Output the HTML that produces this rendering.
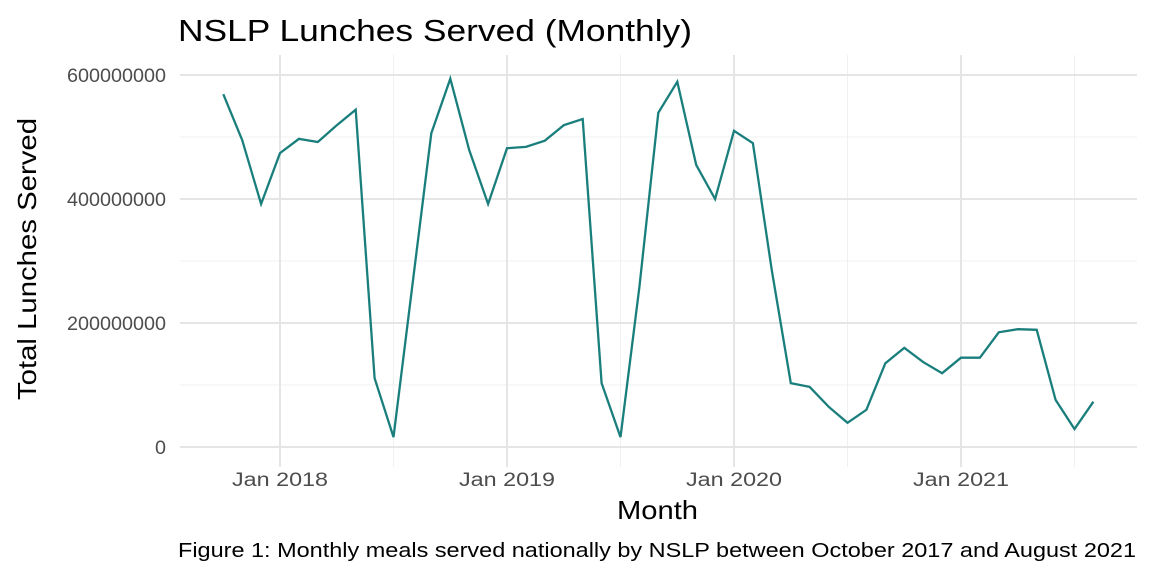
<!DOCTYPE html>
<html><head><meta charset="utf-8"><style>
body{margin:0;background:#fff;font-family:"Liberation Sans",Arial,sans-serif}
svg text{font-family:"Liberation Sans",Arial,sans-serif}
</style></head><body>
<svg id="chart" width="1152" height="576" viewBox="0 0 1152 576">
<rect width="1152" height="576" fill="#fff"/>
<text x="178" y="41" font-size="31" textLength="514" lengthAdjust="spacingAndGlyphs" fill="#000">NSLP Lunches Served (Monthly)</text>
<g id="grid"></g>
<g id="axes"></g>
<path id="line" fill="none" stroke="#1a7f7c" stroke-width="2.3"/>
<text x="617" y="519" font-size="26" textLength="81" lengthAdjust="spacingAndGlyphs" fill="#000">Month</text>
<text transform="translate(36,400) rotate(-90)" font-size="26" textLength="282" lengthAdjust="spacingAndGlyphs" fill="#000">Total Lunches Served</text>
<text x="178" y="557" font-size="20" textLength="958" lengthAdjust="spacingAndGlyphs" fill="#000">Figure 1: Monthly meals served nationally by NSLP between October 2017 and August 2021</text>
</svg>
<script>
// Monthly values in millions, Oct 2017 .. Aug 2021
const startYear = 2017, startMonth = 9; // Oct (0-based)
const lunchesMillions = [569,495,392,474,497,492,519,544,111,16,261,506,594,479,392,482,484,494,519,529,103,16,258,539,589,455,400,510,490,285,103,97,65,39,60,135,160,137,119,144,144,185,190,189,76,29,73];
const yTicks = [0,200000000,400000000,600000000];
const yMinor = [100000000,300000000,500000000];
const xTickYears = [2018,2019,2020,2021];
const xMinorYears = [2018,2019,2020,2021];

const L=180,R=1137,T=55,B=467;
const x0=280, pxYear=227;
function xs(yearFrac){return x0+(yearFrac-2018)*pxYear;}
function ys(v){return 447-v/600000000*372;}
const NS="http://www.w3.org/2000/svg";
const grid=document.getElementById('grid'), axes=document.getElementById('axes');
function line(x1,y1,x2,y2,c,w,parent,name){const l=document.createElementNS(NS,'line');
l.setAttribute('x1',x1);l.setAttribute('y1',y1);l.setAttribute('x2',x2);l.setAttribute('y2',y2);
l.setAttribute('stroke',c);l.setAttribute('stroke-width',w);


parent.appendChild(l);}
function text(x,y,s,anchor,parent,name,len){const t=document.createElementNS(NS,'text');
t.setAttribute('x',x);t.setAttribute('y',y);t.setAttribute('font-size','19');t.setAttribute('fill','#4d4d4d');t.setAttribute('text-anchor',anchor);
t.setAttribute('textLength',len);t.setAttribute('lengthAdjust','spacingAndGlyphs');t.textContent=s;


parent.appendChild(t);}
yMinor.forEach(v=>line(L,ys(v),R,ys(v),'#f0f0f0',1,grid,'y-minor-gridline'));
xMinorYears.forEach(y=>line(xs(y+0.5),T,xs(y+0.5),B,'#f0f0f0',1,grid,'x-minor-gridline'));
yTicks.forEach(v=>{line(L,ys(v),R,ys(v),'#e5e5e5',2,grid,'y-major-gridline');
 const s=String(v); text(166,ys(v)+7,s,'end',axes,'y-tick-label',s.length*11);});
xTickYears.forEach(y=>{line(xs(y),T,xs(y),B,'#e5e5e5',2,grid,'x-major-gridline');
 text(xs(y),486,'Jan '+y,'middle',axes,'x-tick-label',96);});
let d='';
lunchesMillions.forEach((v,i)=>{const m=startMonth+i;const yf=startYear+m/12;
 d+=(i?'L':'M')+xs(yf).toFixed(1)+','+ys(v*1e6).toFixed(1);});
document.getElementById('line').setAttribute('d',d);
</script>
</body></html>
